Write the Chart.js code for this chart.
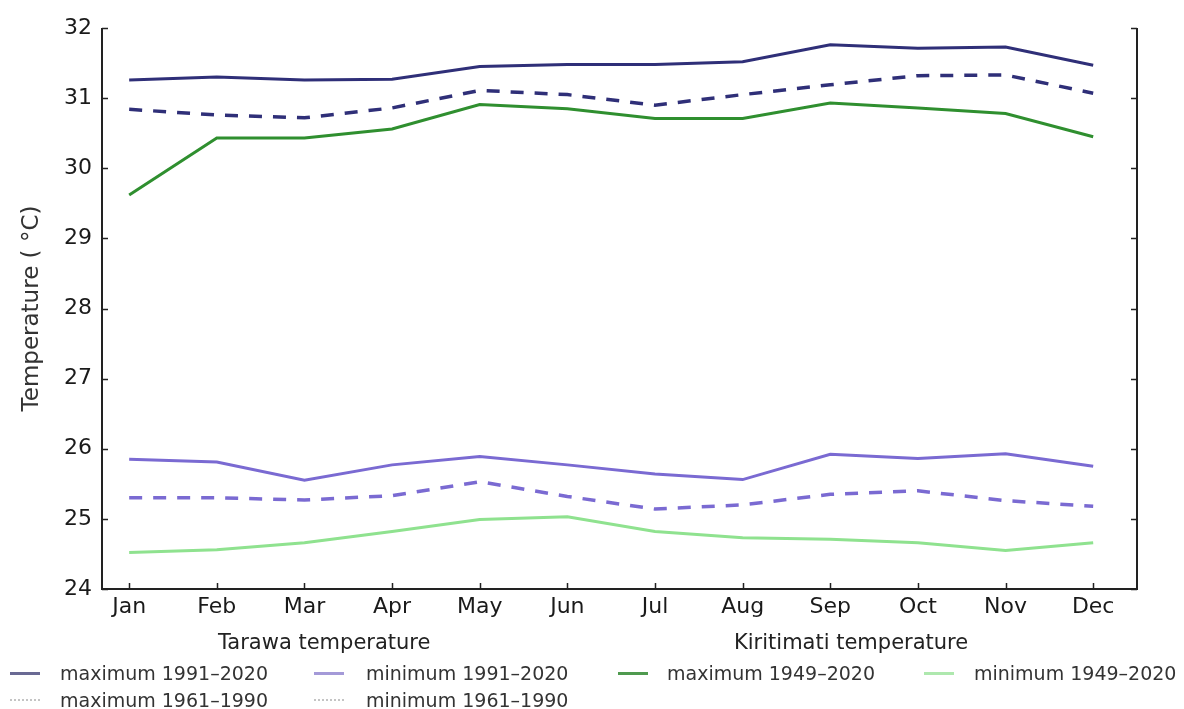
<!DOCTYPE html>
<html>
<head>
<meta charset="utf-8">
<script src="https://cdn.jsdelivr.net/npm/chart.js"></script>
<style>
  body { margin: 0; background: #fff; font-family: "DejaVu Sans", sans-serif; }
  #wrap { position: relative; width: 1184px; height: 709px; overflow: hidden; }
  .lg { position: absolute; font-size: 19px; line-height: 22px; color: #333; white-space: nowrap; }
  .tt { position: absolute; font-size: 21px; line-height: 24px; color: #222; white-space: nowrap; }
  .sw { position: absolute; width: 30px; height: 0; }
</style>
</head>
<body>
<div id="wrap">
  <canvas id="tempChart" width="1184" height="709"></canvas>

  <div class="tt" style="left:218px; top:630px;">Tarawa temperature</div>
  <div class="tt" style="left:734px; top:630px;">Kiritimati temperature</div>

  <div class="sw" style="left:10px; top:672px; border-top:3px solid #6a6a94;"></div>
  <div class="lg" style="left:60px; top:662px;">maximum 1991–2020</div>
  <div class="sw" style="left:314px; top:672px; border-top:3px solid #a49ad8;"></div>
  <div class="lg" style="left:366px; top:662px;">minimum 1991–2020</div>
  <div class="sw" style="left:618px; top:672px; border-top:3px solid #4f9a4f;"></div>
  <div class="lg" style="left:667px; top:662px;">maximum 1949–2020</div>
  <div class="sw" style="left:924px; top:672px; border-top:3px solid #aee8ae;"></div>
  <div class="lg" style="left:974px; top:662px;">minimum 1949–2020</div>

  <div class="sw" style="left:10px; top:699px; border-top:2px dotted #c4c4c4;"></div>
  <div class="lg" style="left:60px; top:689px;">maximum 1961–1990</div>
  <div class="sw" style="left:314px; top:699px; border-top:2px dotted #c4c4c4;"></div>
  <div class="lg" style="left:366px; top:689px;">minimum 1961–1990</div>
</div>

<script>
// months along the x axis
const months = ['Jan', 'Feb', 'Mar', 'Apr', 'May', 'Jun', 'Jul', 'Aug', 'Sep', 'Oct', 'Nov', 'Dec'];

// Tarawa
const tarawaMax9120 = [31.26, 31.30, 31.26, 31.27, 31.45, 31.48, 31.48, 31.52, 31.76, 31.71, 31.73, 31.47];
const tarawaMax6190 = [30.84, 30.76, 30.72, 30.86, 31.11, 31.05, 30.90, 31.05, 31.19, 31.32, 31.33, 31.07];
const tarawaMin9120 = [25.85, 25.81, 25.55, 25.77, 25.89, 25.77, 25.64, 25.56, 25.92, 25.86, 25.93, 25.75];
const tarawaMin6190 = [25.30, 25.30, 25.27, 25.33, 25.53, 25.32, 25.14, 25.20, 25.35, 25.40, 25.26, 25.18];

// Kiritimati
const kiriMax4920 = [29.62, 30.43, 30.43, 30.56, 30.91, 30.85, 30.71, 30.71, 30.93, 30.86, 30.78, 30.45];
const kiriMin4920 = [24.52, 24.56, 24.66, 24.82, 24.99, 25.03, 24.82, 24.73, 24.71, 24.66, 24.55, 24.66];

const yMin = 24, yMax = 32;

const navy = '#2f2f78';
const purple = '#7a6ad2';
const green = '#2f8f2f';
const lightGreen = '#8fe28f';

function pts(vals) {
  return vals.map((v, i) => ({ x: i, y: v }));
}

function line(label, vals, color, dashed) {
  return {
    label: label,
    data: pts(vals),
    borderColor: color,
    borderWidth: dashed ? 3.5 : 3,
    borderDash: dashed ? [13, 11] : [],
    borderCapStyle: 'butt',
    pointRadius: 0,
    tension: 0,
    fill: false
  };
}

// spines on left, bottom and right, with ticks pointing inward
const spines = {
  id: 'spines',
  afterDraw(chart) {
    const { ctx, chartArea: a, scales } = chart;
    const x = scales.x, y = scales.y;
    ctx.save();
    ctx.strokeStyle = '#222';
    ctx.lineWidth = 2;
    ctx.beginPath();
    ctx.moveTo(a.left, a.top);
    ctx.lineTo(a.left, a.bottom);
    ctx.lineTo(a.right, a.bottom);
    ctx.lineTo(a.right, a.top);
    ctx.stroke();
    ctx.lineWidth = 1.5;
    ctx.beginPath();
    y.ticks.forEach(t => {
      const py = Math.round(y.getPixelForValue(t.value)) + 0.5;
      ctx.moveTo(a.left, py); ctx.lineTo(a.left + 6, py);
      ctx.moveTo(a.right, py); ctx.lineTo(a.right - 6, py);
    });
    x.ticks.forEach(t => {
      const px = Math.round(x.getPixelForValue(t.value)) + 0.5;
      ctx.moveTo(px, a.bottom); ctx.lineTo(px, a.bottom - 6);
    });
    ctx.stroke();
    ctx.restore();
  }
};

let ctx = document.getElementById('tempChart').getContext('2d');
let tempChart = new Chart(ctx, {
  type: 'line',
  data: {
    datasets: [
      line('maximum 1991–2020', tarawaMax9120, navy, false),
      line('maximum 1961–1990', tarawaMax6190, navy, true),
      line('minimum 1991–2020', tarawaMin9120, purple, false),
      line('minimum 1961–1990', tarawaMin6190, purple, true),
      line('maximum 1949–2020', kiriMax4920, green, false),
      line('minimum 1949–2020', kiriMin4920, lightGreen, false)
    ]
  },
  options: {
    responsive: false,
    animation: false,
    devicePixelRatio: 1,
    layout: { padding: { top: 28, right: 47, left: 0, bottom: 0 } },
    plugins: {
      legend: { display: false },
      tooltip: { enabled: false }
    },
    scales: {
      x: {
        type: 'linear',
        min: -0.31,
        max: 11.5,
        grid: { display: false, drawTicks: false },
        border: { display: false },
        ticks: {
          stepSize: 1,
          includeBounds: false,
          autoSkip: false,
          maxRotation: 0,
          padding: 5,
          color: '#1a1a1a',
          font: { family: 'DejaVu Sans', size: 22 },
          callback: v => months[v] || ''
        },
        afterFit: s => { s.height = 120; }
      },
      y: {
        min: yMin,
        max: yMax,
        grid: { display: false, drawTicks: false },
        border: { display: false },
        ticks: {
          stepSize: 1,
          padding: 10,
          color: '#1a1a1a',
          font: { family: 'DejaVu Sans', size: 22 }
        },
        title: {
          display: true,
          text: 'Temperature ( °C)',
          color: '#333',
          font: { family: 'DejaVu Sans', size: 23 },
          padding: { top: 18, bottom: 0 }
        },
        afterFit: s => { s.width = 102; }
      }
    }
  },
  plugins: [spines]
});
</script>
</body>
</html>
